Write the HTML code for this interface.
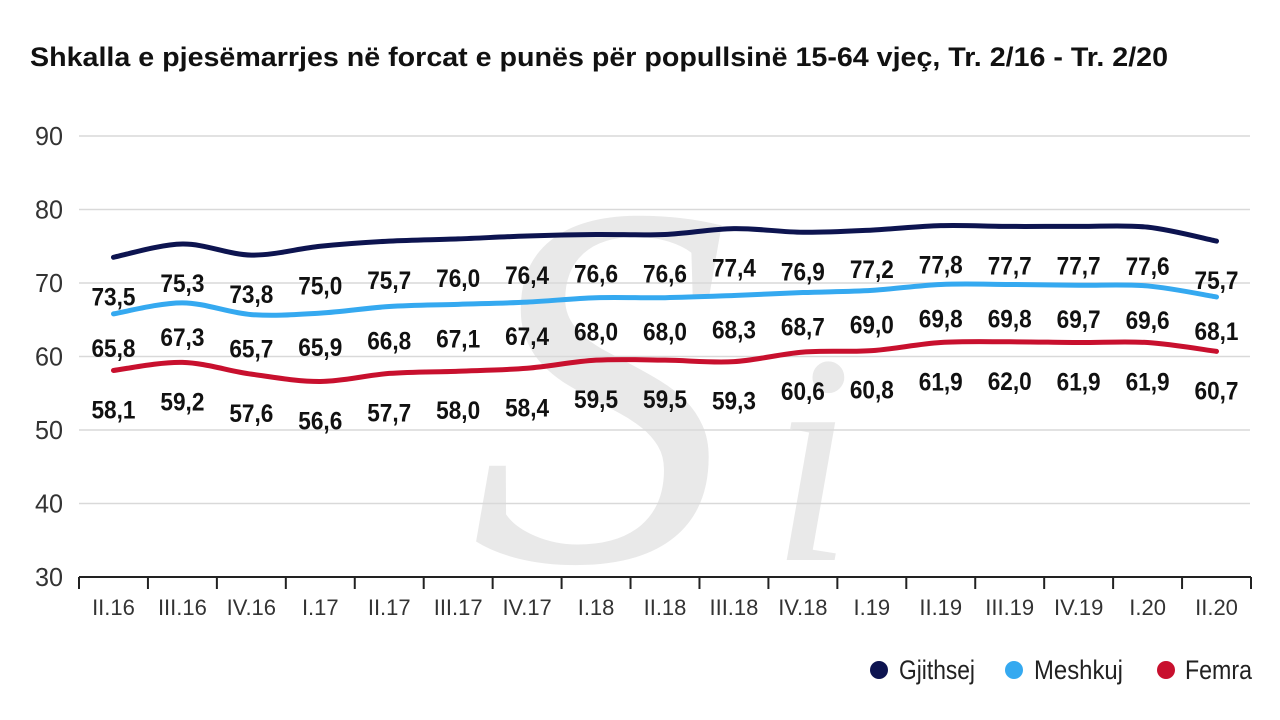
<!DOCTYPE html>
<html><head><meta charset="utf-8"><style>
html,body{margin:0;padding:0;background:#fff;}
svg{display:block;font-family:"Liberation Sans",Arial,sans-serif;}
</style></head><body>
<svg id="s" width="1280" height="720" viewBox="0 0 1280 720" xmlns="http://www.w3.org/2000/svg">
<text x="470" y="560" font-family="Liberation Serif,serif" font-style="italic" font-size="520" fill="#e9e9e9">S</text>
<text x="770" y="560" font-family="Liberation Serif,serif" font-style="italic" font-size="300" fill="#e9e9e9">i</text>
<text x="30" y="66" font-size="27" font-weight="bold" fill="#111" textLength="1138" lengthAdjust="spacingAndGlyphs">Shkalla e pjesëmarrjes në forcat e punës për popullsinë 15-64 vjeç, Tr. 2/16 - Tr. 2/20</text>
<g id="g"></g>
</svg>
<script>
var g=document.getElementById('g'),h='';
function Y(v){return 577-(v-30)*7.35;}
for(var v=40;v<=90;v+=10){h+='<line x1="79" x2="1250" y1="'+Y(v)+'" y2="'+Y(v)+'" stroke="#d9d9d9" stroke-width="1.5"/>';}
for(var v=30;v<=90;v+=10){h+='<text x="63" y="'+(Y(v)+9)+'" font-size="26" fill="#333" text-anchor="end" textLength="28" lengthAdjust="spacingAndGlyphs">'+v+'</text>';}
h+='<line x1="79" x2="1251" y1="577" y2="577" stroke="#222" stroke-width="2"/>';
var cats=['II.16','III.16','IV.16','I.17','II.17','III.17','IV.17','I.18','II.18','III.18','IV.18','I.19','II.19','III.19','IV.19','I.20','II.20'];
var dx=(1251-79)/17;
for(var i=0;i<=17;i++){var x=79+i*dx;h+='<line x1="'+x+'" x2="'+x+'" y1="577" y2="589" stroke="#222" stroke-width="2"/>';}
cats.forEach(function(c,i){h+='<text x="'+(79+dx*(i+.5))+'" y="615" font-size="22" fill="#333" text-anchor="middle">'+c+'</text>';});
var S=[
 {c:'#0d1450',o:39,d:[73.5,75.3,73.8,75.0,75.7,76.0,76.4,76.6,76.6,77.4,76.9,77.2,77.8,77.7,77.7,77.6,75.7]},
 {c:'#35a9f0',o:34,d:[65.8,67.3,65.7,65.9,66.8,67.1,67.4,68.0,68.0,68.3,68.7,69.0,69.8,69.8,69.7,69.6,68.1]},
 {c:'#c8102e',o:39,d:[58.1,59.2,57.6,56.6,57.7,58.0,58.4,59.5,59.5,59.3,60.6,60.8,61.9,62.0,61.9,61.9,60.7]}];
S.forEach(function(s){
 var p=s.d.map(function(v,i){return [79+dx*(i+.5),Y(v)];});
 var d='M'+p[0][0]+','+p[0][1];
 for(var i=0;i<p.length-1;i++){
  var p0=p[i-1]||p[i],p1=p[i],p2=p[i+1],p3=p[i+2]||p2,t=6;
  d+=' C'+(p1[0]+(p2[0]-p0[0])/t)+','+(p1[1]+(p2[1]-p0[1])/t)+' '+(p2[0]-(p3[0]-p1[0])/t)+','+(p2[1]-(p3[1]-p1[1])/t)+' '+p2[0]+','+p2[1];
 }
 h+='<path d="'+d+'" fill="none" stroke="'+s.c+'" stroke-width="5" stroke-linecap="round"/>';
 p.forEach(function(q,i){h+='<text x="'+q[0]+'" y="'+(q[1]+s.o+9)+'" font-size="25" font-weight="bold" fill="#111" text-anchor="middle" textLength="44" lengthAdjust="spacingAndGlyphs">'+s.d[i].toFixed(1).replace('.',',')+'</text>';});
});
[[879,'#0d1450','Gjithsej',899,76],[1014,'#35a9f0','Meshkuj',1034,89],[1166,'#c8102e','Femra',1185,67]].forEach(function(l){
 h+='<circle cx="'+l[0]+'" cy="670" r="9" fill="'+l[1]+'"/><text x="'+l[3]+'" y="679" font-size="27" fill="#222" textLength="'+l[4]+'" lengthAdjust="spacingAndGlyphs">'+l[2]+'</text>';
});
g.innerHTML=h;
</script>
</body></html>
